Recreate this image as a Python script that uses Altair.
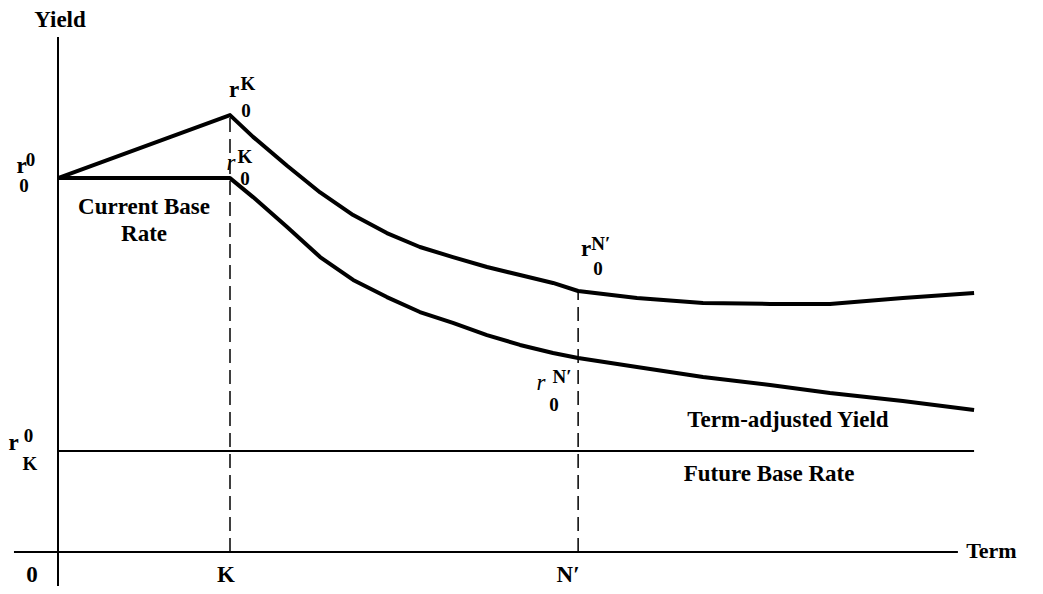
import altair as alt
import pandas as pd

# ---- data (term units, yield units) ----
term_pts = [0, 5, 5.67, 6.66, 7.62, 8.58, 9.56, 10.52, 11.48, 12.47, 13.43, 14.39, 15.12,
            16.83, 18.75, 20.70, 22.44, 24.56, 26.63]
upper_yield = [18.51, 21.63, 20.55, 19.12, 17.80, 16.68, 15.79, 15.10, 14.60, 14.11, 13.71,
               13.32, 12.92, 12.57, 12.33, 12.28, 12.28, 12.57, 12.82]
lower_yield = [18.51, 18.51, 17.57, 16.09, 14.60, 13.47, 12.62, 11.88, 11.34, 10.74, 10.25,
               9.85, 9.60, 9.16, 8.66, 8.27, 7.87, 7.48, 7.03]

K_term = 5
N_term = 15.12
peak_yield = 21.63
nprime_yield = 12.92
future_base = 5.0
term_end = 26.63
axis_end = 26.16
axis_start = -1.28
yaxis_top = 25.5

xmin, xmax = -1.4535, 28.401
ymin, ymax = -1.683, 26.931

# labels: text, t, v
main_text = ["Yield", "Current Base", "Rate", "Term-adjusted Yield", "Future Base Rate",
             "0", "K", "N′", "r", "r", "r", "r"]
main_t = [0.058, 2.50, 2.50, 21.22, 20.67, -0.756, 4.884, 14.83, -1.061, 5.116, 15.35, -1.294]
main_v = [25.99, 16.73, 15.40, 6.19, 3.51, -1.50, -1.50, -1.50, 18.76, 22.52, 14.65, 5.05]

term_text = ["Term"]
term_t = [26.40]
term_v = [0.05]

small_text = ["0", "0", "K", "0", "K", "0", "N′", "0", "N′", "0", "0", "K"]
small_t = [-0.80, -0.988, 5.523, 5.465, 5.436, 5.436, 15.78, 15.70, 14.65, 14.42, -0.860, -0.814]
small_v = [19.10, 17.80, 22.87, 21.53, 19.26, 18.17, 14.95, 13.71, 8.37, 6.98, 5.45, 4.06]

ital_text = ["r", "r"]
ital_t = [5.029, 14.04]
ital_v = [18.91, 8.02]

# ---- tables ----
curves = pd.DataFrame({
    "t": term_pts + term_pts,
    "v": upper_yield + lower_yield,
    "series": ["upper"] * len(term_pts) + ["lower"] * len(term_pts),
    "order": list(range(len(term_pts))) * 2,
})
solid = pd.DataFrame({
    "t": [0, axis_start, 0],
    "t2": [0, axis_end, term_end],
    "v": [ymin, 0, future_base],
    "v2": [yaxis_top, 0, future_base],
})
dashed = pd.DataFrame({
    "t": [K_term, N_term],
    "t2": [K_term, N_term],
    "v": [0, 0],
    "v2": [peak_yield, nprime_yield],
})
main_df = pd.DataFrame({"text": main_text, "t": main_t, "v": main_v})
term_df = pd.DataFrame({"text": term_text, "t": term_t, "v": term_v})
small_df = pd.DataFrame({"text": small_text, "t": small_t, "v": small_v})
ital_df = pd.DataFrame({"text": ital_text, "t": ital_t, "v": ital_v})

xs = alt.Scale(domain=[xmin, xmax], nice=False, zero=False)
ys = alt.Scale(domain=[ymin, ymax], nice=False, zero=False)
X = lambda f="t": alt.X(f"{f}:Q", scale=xs, axis=None)
Y = lambda f="v": alt.Y(f"{f}:Q", scale=ys, axis=None)

FONT = "Liberation Serif"

lines = alt.Chart(curves).mark_line(color="black", strokeWidth=4, clip=False,
                                    strokeJoin="round").encode(
    x=X(), y=Y(), detail="series:N", order="order:Q")
solid_rules = alt.Chart(solid).mark_rule(color="black", strokeWidth=2, clip=False).encode(
    x=X(), x2="t2:Q", y=Y(), y2="v2:Q")
dash_rules = alt.Chart(dashed).mark_rule(color="black", strokeWidth=1.5, strokeDash=[14, 7]).encode(
    x=X(), x2="t2:Q", y=Y(), y2="v2:Q")
main_labels = alt.Chart(main_df).mark_text(font=FONT, fontWeight="bold", fontSize=23,
                                           align="center", baseline="alphabetic",
                                           color="black").encode(x=X(), y=Y(), text="text:N")
term_label = alt.Chart(term_df).mark_text(font=FONT, fontWeight="bold", fontSize=22,
                                          align="left", baseline="middle",
                                          color="black").encode(x=X(), y=Y(), text="text:N")
small_labels = alt.Chart(small_df).mark_text(font=FONT, fontWeight="bold", fontSize=19,
                                             align="center", baseline="alphabetic",
                                             color="black").encode(x=X(), y=Y(), text="text:N")
ital_labels = alt.Chart(ital_df).mark_text(font=FONT, fontStyle="italic", fontSize=23,
                                           align="center", baseline="alphabetic",
                                           color="black").encode(x=X(), y=Y(), text="text:N")

chart = alt.layer(solid_rules, dash_rules, lines, main_labels, term_label, small_labels,
                  ital_labels).properties(
    width=1027, height=578, autosize=alt.AutoSizeParams(type="none"), padding=0,
    background="white",
).configure_view(stroke=None)

chart.save("out.html", embed_options={"renderer": "svg", "actions": False})
